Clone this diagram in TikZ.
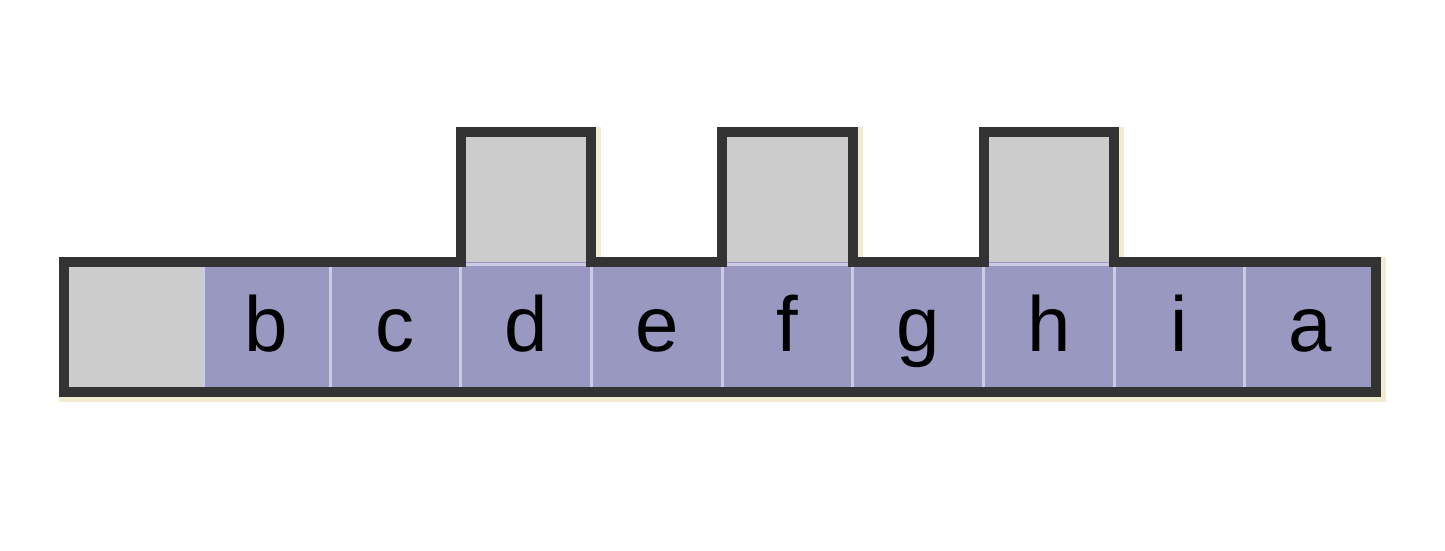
\documentclass[tikz,border=0pt]{standalone}
\usepackage{fontspec}
\setmainfont{Liberation Sans}
\usetikzlibrary{positioning,backgrounds}
\definecolor{slotgray}{HTML}{CCCCCC}
\definecolor{slotblue}{HTML}{9898C1}
\definecolor{slotline}{HTML}{CDCBE4}
\definecolor{rimdark}{HTML}{333333}
\definecolor{halo}{HTML}{F1EBD2}

\begin{document}
\begin{tikzpicture}[x=1pt,y=1pt]
\tikzstyle{slot}=[rectangle,inner sep=0pt,outer sep=0pt,minimum width=130.7pt,minimum height=130pt,fill=slotblue,font=\fontsize{78}{80}\selectfont,text height=60pt,text depth=10pt]
\tikzstyle{divider}=[draw=slotline,line width=3pt]
\tikzstyle{rim}=[draw=rimdark,line width=10pt,line join=miter]
\useasboundingbox (0,0) rectangle (1445,551);
% bottom row
\node[slot,fill=slotgray,minimum width=139pt] (blank-cell) at (133.5,224) {};
\node[slot,minimum width=127pt,right=0pt of blank-cell] (b-cell) {b};
\foreach \x/\y in {b/c,c/d,d/e,e/f,f/g,g/h,h/i,i/a}
  \node[slot,right=0pt of \x-cell] (\y-cell) {\y};
% raised boxes
\foreach \x in {d,f,h}
  \node[slot,fill=slotgray,above=0pt of \x-cell] (\x-top) {};
% thin lines between the cells
\foreach \x in {blank,b,c,d,e,f,g,h,i}
  \draw[divider] (\x-cell.north east) -- (\x-cell.south east);
\foreach \x in {d,f,h}
  \draw[divider] ([yshift=-3pt]\x-top.south west) -- ([yshift=-3pt]\x-top.south east);
\def\slotrim{(blank-cell.south west) -- (blank-cell.north west)
  -- (d-top.south west) -- (d-top.north west) -- (d-top.north east) -- (d-top.south east)
  -- (f-top.south west) -- (f-top.north west) -- (f-top.north east) -- (f-top.south east)
  -- (h-top.south west) -- (h-top.north west) -- (h-top.north east) -- (h-top.south east)
  -- (a-cell.north east) -- (a-cell.south east) -- cycle}
\begin{scope}[on background layer]
\draw[draw=halo,line width=15pt,line join=miter,transform canvas={xshift=2.5pt,yshift=-2.5pt}] \slotrim;
\end{scope}
\draw[rim] \slotrim;
\end{tikzpicture}
\end{document}
